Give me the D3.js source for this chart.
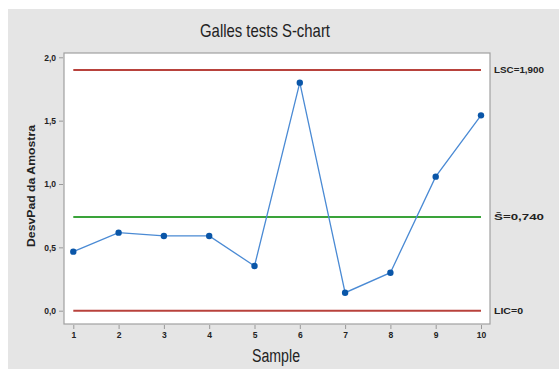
<!DOCTYPE html>
<html>
<head>
<meta charset="utf-8">
<script src="https://cdn.jsdelivr.net/npm/d3@7"></script>
<style>
  body { margin: 0; background: #fff; }
  text { font-family: "Liberation Sans Narrow", "Liberation Sans", Arial, sans-serif; }
</style>
</head>
<body>
<div id="chart"></div>
<script>
// dados do grafico S
const samples = [1, 2, 3, 4, 5, 6, 7, 8, 9, 10]
const stdDev = [0.466, 0.616, 0.59, 0.59, 0.353, 1.80, 0.142, 0.30, 1.058, 1.542]
const yTicks = [0, 0.5, 1.0, 1.5, 2.0]
const limits = [
  { name: 'LSC', value: 1.9, label: 'LSC=1,900', color: '#b8423c' },
  { name: 'S', value: 0.74, label: 'S\u0304=0,740', color: '#3aa33a' },
  { name: 'LIC', value: 0, label: 'LIC=0', color: '#b8423c' }
]

const width = 559
const height = 369
const frame = { left: 64, top: 53, right: 490, bottom: 324 }

const svg = d3.select('#chart').append('svg').attr('width', width).attr('height', height)

// fundo cinza
svg.append('rect').attr('x', 8).attr('y', 9).attr('width', width - 8).attr('height', height - 9).attr('fill', '#e5e5e5')

// area do grafico
svg.append('rect')
  .attr('x', frame.left).attr('y', frame.top)
  .attr('width', frame.right - frame.left).attr('height', frame.bottom - frame.top)
  .attr('fill', '#fff').attr('stroke', '#a0a0a0').attr('stroke-width', 1.2)

const x = d3.scaleLinear().domain([1, 10]).range([73.3, 481])
const y = d3.scaleLinear().domain([0, 2]).range([310.7, 57.3])

// titulo
svg.append('text').attr('x', 265).attr('y', 37).attr('text-anchor', 'middle')
  .attr('font-size', 19).attr('fill', '#222')
  .attr('textLength', 130).attr('lengthAdjust', 'spacingAndGlyphs')
  .text('Galles tests S-chart')

// eixo y
const yAxis = d3.axisLeft(y).tickValues(yTicks).tickSize(4).tickPadding(3)
  .tickFormat(d => d3.format('.1f')(d).replace('.', ','))
const gy = svg.append('g').attr('transform', 'translate(' + (frame.left - 1) + ',0)').call(yAxis)
gy.select('.domain').remove()
gy.selectAll('.tick line').attr('stroke', '#999')
gy.selectAll('.tick text').attr('font-size', 8.5).attr('font-weight', 'bold').attr('fill', '#222')
  .attr('font-family', 'DejaVu Sans')

// eixo x
const xAxis = d3.axisBottom(x).tickValues(samples).tickSize(4).tickPadding(3).tickFormat(d3.format('d'))
const gx = svg.append('g').attr('transform', 'translate(0,' + (frame.bottom + 1) + ')').call(xAxis)
gx.select('.domain').remove()
gx.selectAll('.tick line').attr('stroke', '#999')
gx.selectAll('.tick text').attr('font-size', 8.5).attr('font-weight', 'bold').attr('fill', '#222')
  .attr('font-family', 'DejaVu Sans')

// titulos dos eixos
svg.append('text').attr('x', 276).attr('y', 362).attr('text-anchor', 'middle')
  .attr('font-size', 18).attr('fill', '#222')
  .attr('textLength', 48).attr('lengthAdjust', 'spacingAndGlyphs')
  .text('Sample')
svg.append('text').attr('transform', 'translate(35,186) rotate(-90)').attr('text-anchor', 'middle')
  .attr('font-size', 11).attr('font-weight', 'bold').attr('fill', '#222')
  .attr('textLength', 122).attr('lengthAdjust', 'spacingAndGlyphs')
  .text('DesvPad da Amostra')

// linhas de controle
limits.forEach(l => {
  svg.append('line')
    .attr('x1', x(1)).attr('x2', x(10))
    .attr('y1', y(l.value)).attr('y2', y(l.value))
    .attr('stroke', l.color).attr('stroke-width', 2)
  svg.append('text').attr('x', frame.right + 4).attr('y', y(l.value) + 3.5)
    .attr('font-size', 9.5).attr('font-weight', 600).attr('fill', '#222').attr('font-family', 'DejaVu Sans')
    .attr('textLength', l.label.length > 6 ? 50 : 29).attr('lengthAdjust', 'spacingAndGlyphs')
    .text(l.label)
})

// serie
const line = d3.line().x((d, i) => x(samples[i])).y(d => y(d))
svg.append('path').datum(stdDev).attr('d', line)
  .attr('fill', 'none').attr('stroke', '#4a8ad4').attr('stroke-width', 1.3)
svg.append('g').selectAll('circle').data(stdDev).enter().append('circle')
  .attr('cx', (d, i) => x(samples[i])).attr('cy', d => y(d))
  .attr('r', 3.2).attr('fill', '#0a56a8')
</script>
</body>
</html>
